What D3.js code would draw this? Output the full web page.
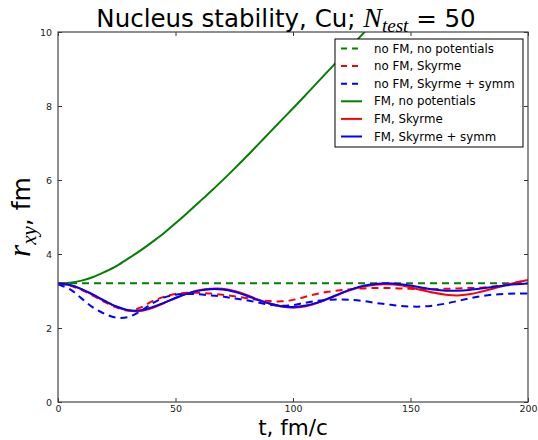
<!DOCTYPE html>
<html>
<head>
<meta charset="utf-8">
<script src="https://cdn.jsdelivr.net/npm/d3@7"></script>
<style>
  body { margin: 0; background: #fff; }
  svg { font-family: "DejaVu Sans", sans-serif; }
</style>
</head>
<body>
<div id="chart"></div>
<script>
// time grid, fm/c
const times = d3.range(0, 201, 5);

// r_xy values (fm)
const noFmNoPot = times.map(() => 3.21);
const noFmSkyrme = [3.20, 3.15, 3.03, 2.87, 2.70, 2.55, 2.47, 2.55, 2.72, 2.84, 2.92, 2.95, 2.95, 2.93, 2.90, 2.86, 2.81, 2.76, 2.73, 2.72, 2.76,
  2.84, 2.92, 2.98, 3.02, 3.05, 3.07, 3.08, 3.08, 3.07, 3.06, 3.05, 3.05, 3.06, 3.07, 3.08, 3.09, 3.12, 3.17, 3.23, 3.29];
const noFmSymm = [3.18, 3.05, 2.80, 2.55, 2.38, 2.28, 2.30, 2.45, 2.66, 2.82, 2.90, 2.92, 2.91, 2.88, 2.85, 2.80, 2.75, 2.69, 2.63, 2.60, 2.62,
  2.68, 2.73, 2.76, 2.77, 2.76, 2.73, 2.68, 2.64, 2.60, 2.58, 2.58, 2.61, 2.66, 2.73, 2.80, 2.86, 2.90, 2.92, 2.93, 2.93];
// free streaming goes off the top after ~130 fm/c
const fmNoPot = [3.20, 3.22, 3.28, 3.38, 3.52, 3.68, 3.88, 4.09, 4.32, 4.56, 4.83, 5.11, 5.40, 5.69, 5.99, 6.30, 6.62, 6.95, 7.28, 7.61, 7.94,
  8.27, 8.61, 8.95, 9.29, 9.63, 9.97, 10.31, 10.65];
const fmSkyrme = [3.20, 3.16, 3.05, 2.89, 2.72, 2.57, 2.47, 2.46, 2.54, 2.67, 2.81, 2.93, 3.02, 3.06, 3.06, 3.00, 2.90, 2.77, 2.66, 2.58, 2.55,
  2.58, 2.67, 2.79, 2.92, 3.04, 3.12, 3.17, 3.18, 3.16, 3.10, 3.02, 2.95, 2.90, 2.88, 2.91, 2.98, 3.06, 3.15, 3.23, 3.30];
const fmSymm = [3.20, 3.16, 3.05, 2.90, 2.73, 2.58, 2.48, 2.48, 2.56, 2.68, 2.81, 2.93, 3.01, 3.05, 3.04, 2.98, 2.88, 2.76, 2.66, 2.59, 2.57,
  2.60, 2.68, 2.80, 2.93, 3.05, 3.14, 3.19, 3.21, 3.19, 3.15, 3.09, 3.04, 3.01, 3.01, 3.03, 3.07, 3.11, 3.15, 3.18, 3.20];

const xTicks = [0, 50, 100, 150, 200];
const yTicks = [0, 2, 4, 6, 8, 10];

const series = [
  {name: "no FM, no potentials", values: noFmNoPot, color: "#008000", dash: true},
  {name: "no FM, Skyrme", values: noFmSkyrme, color: "#ff0000", dash: true},
  {name: "no FM, Skyrme + symm", values: noFmSymm, color: "#0000ff", dash: true},
  {name: "FM, no potentials", values: fmNoPot, color: "#008000", dash: false},
  {name: "FM, Skyrme", values: fmSkyrme, color: "#ff0000", dash: false},
  {name: "FM, Skyrme + symm", values: fmSymm, color: "#0000ff", dash: false}
];

const W = 538, H = 440;
const margin = {top: 32, right: 10, bottom: 38, left: 58};
const width = W - margin.left - margin.right;
const height = H - margin.top - margin.bottom;

const x = d3.scaleLinear().domain([0, 200]).range([0, width]);
const y = d3.scaleLinear().domain([0, 10]).range([height, 0]);

const svg = d3.select("#chart").append("svg")
  .attr("width", W)
  .attr("height", H);

svg.append("defs").append("clipPath").attr("id", "clip")
  .append("rect").attr("width", width).attr("height", height);

const plot = svg.append("g")
  .attr("transform", "translate(" + margin.left + "," + margin.top + ")");

const line = d3.line()
  .x((d, i) => x(times[i]))
  .y(d => y(d))
  .curve(d3.curveCatmullRom);

plot.append("g").attr("clip-path", "url(#clip)")
  .selectAll("path")
  .data(series)
  .enter().append("path")
  .attr("d", d => line(d.values))
  .attr("fill", "none")
  .attr("stroke", d => d.color)
  .attr("stroke-width", 2)
  .attr("stroke-dasharray", d => d.dash ? "7,5" : null);

// axes, ticks pointing inward like matplotlib classic
const tickLen = 4;
const axisStyle = g => {
  g.select(".domain").remove();
  g.selectAll(".tick line").attr("stroke", "#333");
  g.selectAll(".tick text").attr("fill", "#222").style("font-size", "9.5px")
    .style("font-family", "DejaVu Sans");
};

plot.append("g")
  .attr("transform", "translate(0," + height + ")")
  .call(d3.axisBottom(x).tickValues(xTicks).tickSize(-tickLen).tickPadding(tickLen - 1))
  .call(axisStyle);
plot.append("g")
  .call(d3.axisTop(x).tickValues(xTicks).tickSize(-tickLen).tickFormat(""))
  .call(axisStyle);
plot.append("g")
  .call(d3.axisLeft(y).tickValues(yTicks).tickSize(-tickLen).tickPadding(tickLen + 2))
  .call(axisStyle);
plot.append("g")
  .attr("transform", "translate(" + width + ",0)")
  .call(d3.axisRight(y).tickValues(yTicks).tickSize(-tickLen).tickFormat(""))
  .call(axisStyle);

plot.append("rect")
  .attr("width", width).attr("height", height)
  .attr("fill", "none").attr("stroke", "#444").attr("stroke-width", 1.2);

// title with math-like N_test
const title = svg.append("text")
  .attr("x", margin.left + width / 2 - 7)
  .attr("y", 27)
  .attr("text-anchor", "middle")
  .style("font-size", "24.5px")
  .attr("fill", "#000");
title.append("tspan").text("Nucleus stability, Cu; ");
title.append("tspan").text("N")
  .style("font-family", "Liberation Serif").style("font-style", "italic").style("font-size", "28px");
title.append("tspan").text("test").attr("dy", 5)
  .style("font-family", "Liberation Serif").style("font-style", "italic").style("font-size", "19px");
title.append("tspan").text(" = 50").attr("dy", -5);

// x label
svg.append("text")
  .attr("x", margin.left + width / 2)
  .attr("y", 435)
  .attr("text-anchor", "middle")
  .style("font-size", "21.5px")
  .text("t, fm/c");

// y label
const ylab = svg.append("text")
  .attr("transform", "translate(30," + (margin.top + height / 2) + ") rotate(-90)")
  .attr("text-anchor", "middle")
  .style("font-size", "25px");
ylab.append("tspan").text("r")
  .style("font-family", "Liberation Serif").style("font-style", "italic").style("font-size", "31px");
ylab.append("tspan").text("xy").attr("dy", 6)
  .style("font-family", "Liberation Serif").style("font-style", "italic").style("font-size", "21px");
ylab.append("tspan").text(", fm").attr("dy", -6);

// legend
const legX = 335, legY = 39, legW = 188, legH = 108, rowH = 17.6;
const legend = svg.append("g");
legend.append("rect")
  .attr("x", legX).attr("y", legY).attr("width", legW).attr("height", legH)
  .attr("fill", "#fff").attr("stroke", "#000").attr("stroke-width", 1);
const rows = legend.selectAll("g.row")
  .data(series)
  .enter().append("g").attr("class", "row")
  .attr("transform", (d, i) => "translate(" + legX + "," + (legY + 9.5 + i * rowH) + ")");
rows.append("line")
  .attr("x1", 6).attr("x2", 27)
  .attr("stroke", d => d.color).attr("stroke-width", 2)
  .attr("stroke-dasharray", d => d.dash ? "6,5" : null);
rows.append("text")
  .attr("x", 39).attr("dy", "0.35em")
  .style("font-size", "11.8px")
  .text(d => d.name);
</script>
</body>
</html>
